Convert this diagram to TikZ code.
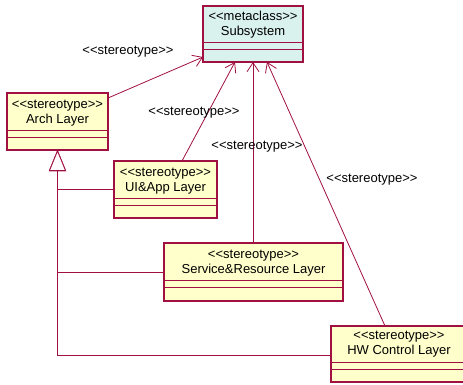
\documentclass[tikz,border=0pt]{standalone}
\usepackage{fontspec}
\setmainfont{Liberation Sans}
\usetikzlibrary{arrows.meta}
\definecolor{umlred}{RGB}{160,16,64}
\definecolor{umlyellow}{RGB}{255,255,204}
\definecolor{umlcyan}{RGB}{218,242,238}
\begin{document}
\begin{tikzpicture}[x=1pt,y=-1pt,
  cls/.style={draw=umlred,line width=1.1pt,fill=umlyellow,inner sep=0pt,outer sep=0pt},
  meta/.style={cls,fill=umlcyan},
  ttl/.style={align=center,inner sep=0pt,font=\fontsize{13}{15}\selectfont},
  lbl/.style={inner sep=0pt,font=\fontsize{13}{15}\selectfont},
  dep/.style={draw=umlred,line width=0.8pt,-{Straight Barb[length=9pt,width=12pt]}},
  gen/.style={draw=umlred,line width=0.8pt,-{Triangle[open,length=21pt,width=17pt,fill=white]}},
  divl/.style={draw=umlred,line width=0.8pt}]
\useasboundingbox (0,0) rectangle (463,384);
% classes
\node[meta,minimum width=100pt,minimum height=56pt] (sub) at (253,34) {};
\node[ttl] (subT) at (253,25) {<{}<metaclass>{}>\\Subsystem};
\draw[divl] (sub.west |- 0,42) -- (sub.east |- 0,42);
\draw[divl] (sub.west |- 0,49) -- (sub.east |- 0,49);

\node[cls,minimum width=101pt,minimum height=57pt] (arch) at (57.5,121.5) {};
\node[ttl] (archT) at (57.5,113) {<{}<stereotype>{}>\\Arch Layer};
\draw[divl] (arch.west |- 0,130) -- (arch.east |- 0,130);
\draw[divl] (arch.west |- 0,137) -- (arch.east |- 0,137);

\node[cls,minimum width=103pt,minimum height=57pt] (ui) at (165.5,189.5) {};
\node[ttl] (uiT) at (165.5,181) {<{}<stereotype>{}>\\UI\&App Layer};
\draw[divl] (ui.west |- 0,198) -- (ui.east |- 0,198);
\draw[divl] (ui.west |- 0,205) -- (ui.east |- 0,205);

\node[cls,minimum width=179pt,minimum height=58pt] (svc) at (253.5,272) {};
\node[ttl] (svcT) at (253.5,263) {<{}<stereotype>{}>\\Service\&Resource Layer};
\draw[divl] (svc.west |- 0,280) -- (svc.east |- 0,280);
\draw[divl] (svc.west |- 0,287) -- (svc.east |- 0,287);

\node[cls,minimum width=134pt,minimum height=56pt] (hw) at (398,354) {};
\node[ttl] (hwT) at (399,344) {<{}<stereotype>{}>\\HW Control Layer};
\draw[divl] (hw.west |- 0,362) -- (hw.east |- 0,362);
\draw[divl] (hw.west |- 0,369) -- (hw.east |- 0,369);

% generalizations
\draw[gen] (ui.west) -| (arch.south);
\draw[gen] (svc.west) -| (arch.south);
\draw[gen] (hw.west |- 0,355) -| (arch.south);

% stereotype dependencies
\draw[dep] (arch.east |- 0,98) -- (sub.west |- 0,57);
\draw[dep] (ui.north -| 182,0) -- (sub.south -| 235,0);
\draw[dep] (svc.north -| 253,0) -- (sub.south -| 253,0);
\draw[dep] (hw.north -| 385,0) -- (sub.south -| 267,0);

% labels
\node[lbl] (l1) at (128,52) {<{}<stereotype>{}>};
\node[lbl] (l2) at (194,113) {<{}<stereotype>{}>};
\node[lbl] (l3) at (257,147) {<{}<stereotype>{}>};
\node[lbl] (l4) at (372,180) {<{}<stereotype>{}>};
\end{tikzpicture}
\end{document}
